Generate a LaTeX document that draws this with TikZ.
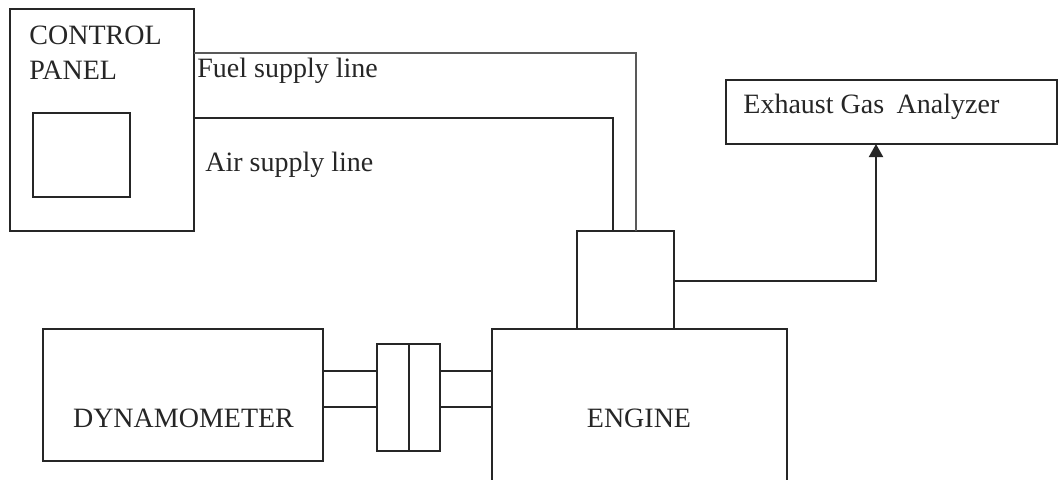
\documentclass[tikz,border=0pt]{standalone}
\usepackage{fontspec}
\setmainfont{Liberation Serif}
\usetikzlibrary{arrows.meta}
\begin{document}
\begin{tikzpicture}[x=0.5pt,y=-0.5pt,
  box/.style={draw=black!85,line width=1pt,inner sep=0pt,outer sep=0pt},
  lbl/.style={inner sep=0pt,font=\fontsize{14}{17}\selectfont,text=black!85},
  pipe/.style={draw=black!85,line width=1pt},
  fuelpipe/.style={draw=black!65,line width=1pt},
  arr/.style={draw=black!85,line width=1pt,-{Triangle[length=6.5pt,width=7pt]}}]
\clip (0,0) rectangle (1059,479);
\fill[white] (0,0) rectangle (1059,479);
% boxes
\node[box,minimum width=92pt,minimum height=111pt] (cp) at (102,120) {};
\node[box,minimum width=48.5pt,minimum height=42pt] (inner) at (81.5,155) {};
\node[box,minimum width=48.5pt,minimum height=49pt] (carb) at (625.5,280) {};
\node[box,minimum width=165.5pt,minimum height=32pt] (ega) at (891.5,112) {};
\node[box,minimum width=140pt,minimum height=66pt] (dyn) at (183,395) {};
\node[box,minimum width=16pt,minimum height=53.5pt] (c1) at (393,397.5) {};
\node[box,minimum width=15.5pt,minimum height=53.5pt] (c2) at (424.5,397.5) {};
\node[box,minimum width=147.5pt,minimum height=115.5pt] (eng) at (639.5,444.5) {};
% labels
\node[lbl,anchor=base west] (t1) at (29,44) {CONTROL};
\node[lbl,anchor=base west] (t2) at (29,79) {PANEL};
\node[lbl,anchor=base west] (tf) at (197,77) {Fuel supply line};
\node[lbl,anchor=base west] (ta) at (205,171) {Air supply line};
\node[lbl,anchor=base west] (te) at (743,113) {Exhaust Gas\hspace{0.45em}Analyzer};
\node[lbl,anchor=base] (td) at (183.5,427) {DYNAMOMETER};
\node[lbl,anchor=base] (tg) at (639,427) {ENGINE};
% helper coordinates
\coordinate (fy) at (0,53);
\coordinate (fx) at (636,0);
\coordinate (ay) at (0,118);
\coordinate (ax) at (613,0);
\coordinate (ey) at (0,281);
\coordinate (ex) at (876,0);
\coordinate (s1) at (0,371);
\coordinate (s2) at (0,407);
% connectors
\draw[fuelpipe] (cp.east |- fy) -| (carb.north -| fx);
\draw[pipe] (cp.east |- ay) -| (carb.north -| ax);
\draw[arr] (carb.east |- ey) -| (ega.south -| ex);
\draw[pipe] (dyn.east |- s1) -- (c1.west |- s1);
\draw[pipe] (dyn.east |- s2) -- (c1.west |- s2);
\draw[pipe] (c2.east |- s1) -- (eng.west |- s1);
\draw[pipe] (c2.east |- s2) -- (eng.west |- s2);
\end{tikzpicture}
\end{document}
